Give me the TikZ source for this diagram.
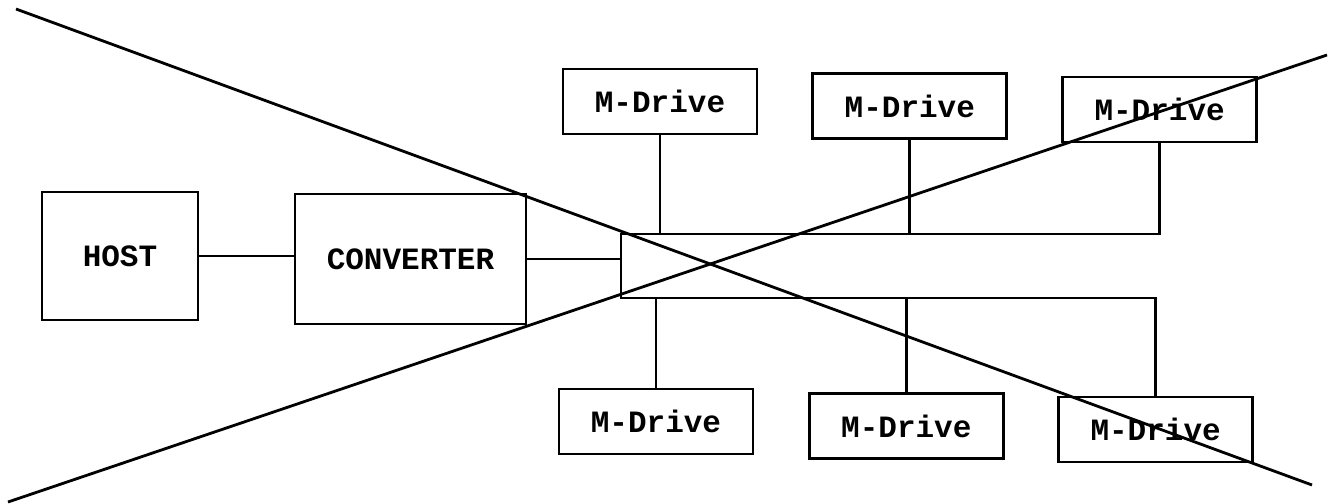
\documentclass[tikz,border=0pt]{standalone}
\usepackage{fontspec}
\setmonofont{Liberation Mono}
\usepackage{tikz}
\usetikzlibrary{positioning}

\begin{document}
\begin{tikzpicture}[
        x=1pt, y=-1pt,
        font=\ttfamily\bfseries\fontsize{31}{31}\selectfont,
        unit/.style={
            draw=black,
            line width=2.8pt,
            align=center,
            inner sep=0pt
        },
        hostbox/.style={
            unit,
            minimum width=156pt,
            minimum height=128pt
        },
        convbox/.style={
            unit,
            minimum width=231pt,
            minimum height=130pt
        },
        drive/.style={
            unit,
            minimum width=194pt,
            minimum height=65pt
        },
        wire/.style={
            line width=2.8pt,
            draw=black
        },
        cross/.style={
            line width=2.8pt,
            draw=black
        }
    ]

    \useasboundingbox (0,0) rectangle (1329,503);

    % =========================
    % Host side
    % =========================
    \node[hostbox] (host) at (120,256) {HOST};
    \node[convbox] (conv) at (410.5,259) {CONVERTER};

    \draw[wire] (host.east) -- (host.east -| conv.west);

    % =========================
    % Bus
    % =========================
    \coordinate (busTL) at (621,234);
    \coordinate (busBL) at (621,298);

    \draw[wire] (conv.east) -- (conv.east -| busTL);

    % =========================
    % Drives
    % =========================
    \node[drive] (T1) at (660,101.5) {M-Drive};
    \node[drive, right=53pt of T1, yshift=-4.5pt] (T2) {M-Drive};
    \node[drive, right=53pt of T2, yshift=-3.5pt] (T3) {M-Drive};

    \node[drive] (B1) at (656,421.5) {M-Drive};
    \node[drive, right=53.5pt of B1, yshift=-4.5pt] (B2) {M-Drive};
    \node[drive, right=52.5pt of B2, yshift=-3.5pt] (B3) {M-Drive};

    \draw[wire] (T3.south) -- (T3.south |- busTL) -- (busTL)
        -- (busBL) -- (B3.north |- busBL) -- (B3.north);
    \draw[wire] (T1.south) -- (T1.south |- busTL);
    \draw[wire] (T2.south) -- (T2.south |- busTL);
    \draw[wire] (B1.north) -- (B1.north |- busBL);
    \draw[wire] (B2.north) -- (B2.north |- busBL);

    % =========================
    % Crossing lines
    % =========================
    \coordinate (xa1) at (16,9);
    \coordinate (xa2) at (1312,485);
    \coordinate (xb1) at (8,502);
    \coordinate (xb2) at (1327,55);

    \draw[cross] (xa1) -- (xa2);
    \draw[cross] (xb1) -- (xb2);

\end{tikzpicture}
\end{document}
